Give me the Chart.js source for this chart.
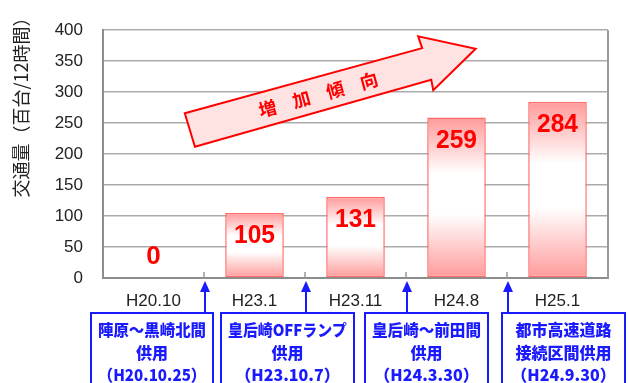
<!DOCTYPE html>
<html>
<head>
<meta charset="utf-8">
<script src="https://cdn.jsdelivr.net/npm/chart.js@4"></script>
<style>
  body { margin: 0; background: #fff; }
  canvas { display: block; }
</style>
</head>
<body>
<canvas id="trafficChart" width="629" height="383"></canvas>
<script>
// data
const categories = ["H20.10", "H23.1", "H23.11", "H24.8", "H25.1"];
const trafficValues = [0, 105, 131, 259, 284];
const yTicks = [0, 50, 100, 150, 200, 250, 300, 350, 400];
const yTitle = "交通量（百台/12時間）";
const trendText = "増 加 傾 向";
const noteLines = [
    ["陣原～黒崎北間", "供用", "（H20.10.25）"],
    ["皇后崎OFFランプ", "供用", "（H23.10.7）"],
    ["皇后崎～前田間", "供用", "（H24.3.30）"],
    ["都市高速道路", "接続区間供用", "（H24.9.30）"]
];

// note boxes (pixel layout) and trend arrow (in category index / value units)
const noteBoxes = [[91, 213], [221, 354], [365, 488], [502, 625]];
const arrowShape = [[0.31, 266], [2.66, 371], [2.62, 390], [3.19, 370], [2.77, 303], [2.75, 320], [0.41, 212]];
const arrowTextPos = [1.63, 296];

const pink = "#ff9a9a";

const decorations = {
    id: "decorations",
    beforeDatasetsDraw(chart) {
        const { ctx, scales: { x, y } } = chart;
        // trend arrow
        ctx.save();
        ctx.beginPath();
        arrowShape.forEach((p, i) => {
            const px = x.getPixelForValue(p[0]);
            const py = y.getPixelForValue(p[1]);
            if (i === 0) ctx.moveTo(px, py); else ctx.lineTo(px, py);
        });
        ctx.closePath();
        ctx.fillStyle = "#ffe3e3";
        ctx.fill();
        ctx.strokeStyle = "#ff0000";
        ctx.lineWidth = 2;
        ctx.lineJoin = "miter";
        ctx.stroke();

        const a = arrowShape[0], b = arrowShape[1];
        const ang = Math.atan2(y.getPixelForValue(b[1]) - y.getPixelForValue(a[1]),
            x.getPixelForValue(b[0]) - x.getPixelForValue(a[0]));
        ctx.translate(x.getPixelForValue(arrowTextPos[0]), y.getPixelForValue(arrowTextPos[1]));
        ctx.rotate(ang);
        ctx.fillStyle = "#ff0000";
        ctx.font = "bold 18px 'Noto Sans CJK JP'";
        ctx.textAlign = "center";
        ctx.textBaseline = "middle";
        const chars = trendText.split(" ");
        chars.forEach((ch, k) => {
            ctx.fillText(ch, (k - (chars.length - 1) / 2) * 35, 0);
        });
        ctx.restore();
    },
    afterDatasetsDraw(chart) {
        const { ctx, chartArea, scales: { x, y } } = chart;
        const meta = chart.getDatasetMeta(0);
        ctx.save();
        // value labels
        ctx.fillStyle = "#ff0000";
        ctx.font = "bold 26px 'Liberation Sans'";
        ctx.textAlign = "center";
        ctx.textBaseline = "middle";
        meta.data.forEach((bar, i) => {
            const h = y.getPixelForValue(0) - bar.y;
            const ly = h > 40 ? bar.y + 23 : bar.y - 21;
            ctx.fillText(String(trafficValues[i]), bar.x, ly, 41);
        });

        // plot frame
        ctx.strokeStyle = "#9a9a9a";
        ctx.lineWidth = 2;
        ctx.beginPath();
        ctx.moveTo(chartArea.right, chartArea.top);
        ctx.lineTo(chartArea.right, chartArea.bottom);
        ctx.stroke();

        // inner tick marks between categories
        ctx.lineWidth = 1.5;
        ctx.strokeStyle = "#999";
        for (let i = 0; i < categories.length - 1; i++) {
            const bx = (x.getPixelForValue(i) + x.getPixelForValue(i + 1)) / 2;
            ctx.beginPath();
            ctx.moveTo(bx, chartArea.bottom);
            ctx.lineTo(bx, chartArea.bottom - 6);
            ctx.stroke();
        }

        // note boxes with arrows
        ctx.strokeStyle = "#1a1aff";
        ctx.fillStyle = "#1a1aff";
        for (let i = 0; i < noteBoxes.length; i++) {
            const [l, r] = noteBoxes[i];
            const top = 313;
            ctx.lineWidth = 2;
            ctx.strokeRect(l, top, r - l, 100);

            const ax = Math.round((x.getPixelForValue(i) + x.getPixelForValue(i + 1)) / 2) + 1;
            ctx.beginPath();
            ctx.moveTo(ax, top);
            ctx.lineTo(ax, 288);
            ctx.stroke();
            ctx.beginPath();
            ctx.moveTo(ax, 281);
            ctx.lineTo(ax - 5, 292);
            ctx.lineTo(ax + 5, 292);
            ctx.closePath();
            ctx.fill();

            ctx.font = "900 16px 'Noto Sans CJK JP'";
            ctx.textAlign = "center";
            ctx.textBaseline = "middle";
            const cx = (l + r) / 2;
            noteLines[i].forEach((t, k) => {
                ctx.fillText(t, cx, 330 + k * 22.5, r - l - 14);
            });
        }

        // y axis title
        ctx.translate(21, 103);
        ctx.rotate(-Math.PI / 2);
        ctx.fillStyle = "#222";
        ctx.font = "18px 'Noto Sans CJK JP'";
        ctx.textAlign = "center";
        ctx.textBaseline = "middle";
        ctx.fillText(yTitle, 0, 0, 190);
        ctx.restore();
    }
};

const ctx = document.getElementById("trafficChart").getContext("2d");

new Chart(ctx, {
    type: "bar",
    data: {
        labels: categories,
        datasets: [{
            data: trafficValues,
            backgroundColor: c => {
                const chart = c.chart;
                if (!chart.chartArea) return pink;
                const y = chart.scales.y;
                const top = y.getPixelForValue(c.raw);
                const bottom = y.getPixelForValue(0);
                if (bottom - top < 1) return "rgba(0,0,0,0)";
                const g = chart.ctx.createLinearGradient(0, top, 0, bottom);
                g.addColorStop(0, pink);
                g.addColorStop(0.35, "#ffffff");
                g.addColorStop(0.6, "#ffffff");
                g.addColorStop(1, pink);
                return g;
            },
            borderColor: "#ff6b6b",
            borderWidth: c => (c.raw > 0 ? 1.5 : 0),
            borderSkipped: false,
            barPercentage: 0.58,
            categoryPercentage: 1
        }]
    },
    options: {
        responsive: false,
        animation: false,
        layout: { padding: { top: 27, right: 21, left: 0, bottom: 0 } },
        plugins: {
            legend: { display: false },
            tooltip: { enabled: false }
        },
        scales: {
            x: {
                grid: { display: false, drawTicks: false },
                border: { color: "#8c8c8c", width: 2 },
                ticks: {
                    color: "#222",
                    font: { family: "Liberation Sans", size: 17 },
                    padding: 13,
                    maxRotation: 0
                },
                afterFit: s => { s.height = 105; }
            },
            y: {
                min: 0,
                max: 400,
                afterBuildTicks: s => { s.ticks = yTicks.map(v => ({ value: v })); },
                grid: { color: "#ababab", lineWidth: 1.5, drawTicks: false },
                border: { color: "#8c8c8c", width: 2 },
                ticks: {
                    color: "#222",
                    font: { family: "Liberation Sans", size: 17 },
                    padding: 20
                },
                afterFit: s => { s.width = 103; }
            }
        }
    },
    plugins: [decorations]
});
</script>
</body>
</html>
